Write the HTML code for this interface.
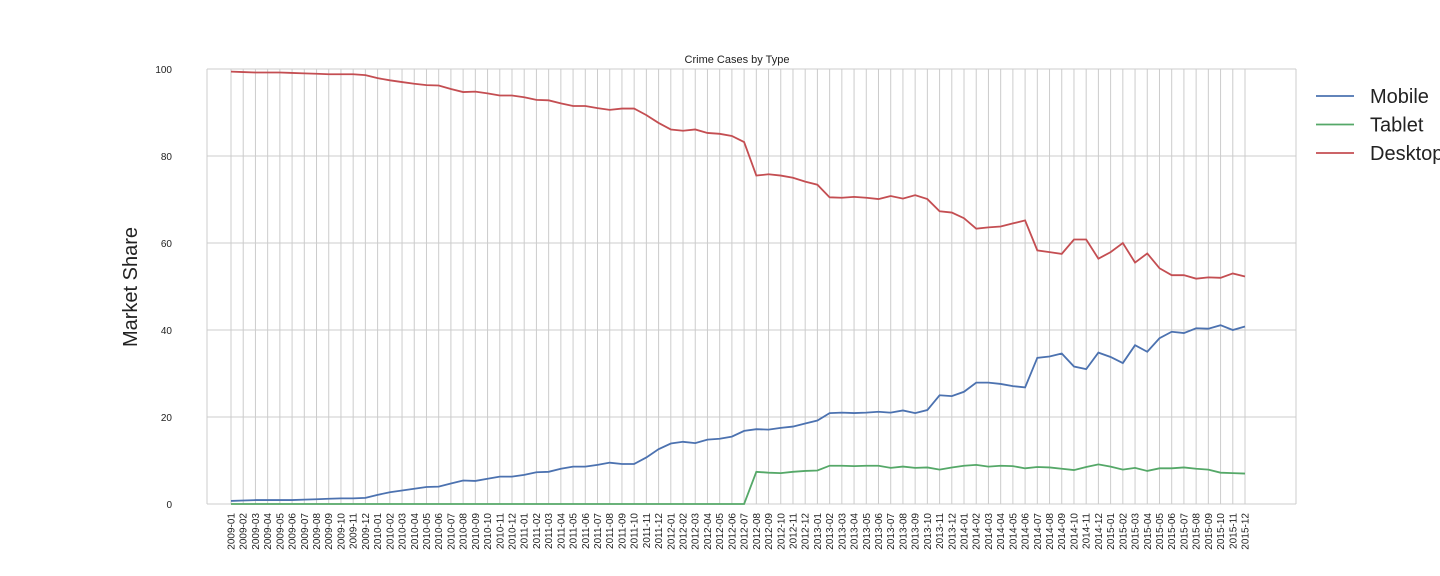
<!DOCTYPE html>
<html><head><meta charset="utf-8"><style>
body{margin:0;background:#fff;}
svg{display:block;font-family:"Liberation Sans",Arial,sans-serif;}
</style></head><body>
<svg id="chart" width="1440" height="576">
<text x="737" y="63" font-size="11" text-anchor="middle" fill="#222">Crime Cases by Type</text>
<text transform="translate(137,287) rotate(-90)" font-size="20" text-anchor="middle" fill="#222">Market Share</text>
<g id="grid"></g><g id="ticks"></g><g id="series"></g><g id="legend"></g>
</svg>
<script>
const categories=[];for(let y=2009;y<=2015;y++)for(let m=1;m<=12;m++)categories.push(y+'-'+String(m).padStart(2,'0'));
const yTicks=[0,20,40,60,80,100];
const mobile=[0.7,0.8,0.9,0.9,0.9,0.9,1.0,1.1,1.2,1.3,1.3,1.4,2.1,2.7,3.1,3.5,3.9,4.0,4.7,5.4,5.3,5.8,6.3,6.3,6.7,7.3,7.4,8.1,8.6,8.6,9.0,9.5,9.2,9.2,10.7,12.6,13.9,14.3,14.0,14.8,15.0,15.5,16.8,17.2,17.1,17.5,17.8,18.5,19.2,20.9,21.0,20.9,21.0,21.2,21.0,21.5,20.9,21.6,25.0,24.8,25.8,27.9,27.9,27.6,27.1,26.8,33.6,33.9,34.6,31.6,31.0,34.8,33.8,32.4,36.5,35.0,38.1,39.6,39.3,40.4,40.3,41.1,40.0,40.8];
const tablet=[0,0,0,0,0,0,0,0,0,0,0,0,0,0,0,0,0,0,0,0,0,0,0,0,0,0,0,0,0,0,0,0,0,0,0,0,0,0,0,0,0,0,0,7.4,7.2,7.1,7.4,7.6,7.7,8.8,8.8,8.7,8.8,8.8,8.3,8.6,8.3,8.4,7.9,8.4,8.8,9.0,8.6,8.8,8.7,8.2,8.5,8.4,8.1,7.8,8.5,9.1,8.6,7.9,8.3,7.6,8.2,8.2,8.4,8.1,7.9,7.2,7.1,7.0];
const desktop=[99.4,99.3,99.2,99.2,99.2,99.1,99.0,98.9,98.8,98.8,98.8,98.6,97.9,97.4,97.0,96.6,96.3,96.2,95.4,94.7,94.8,94.4,93.9,93.9,93.5,92.9,92.8,92.1,91.5,91.5,91.0,90.6,90.9,90.9,89.4,87.6,86.1,85.8,86.1,85.3,85.1,84.6,83.2,75.5,75.8,75.5,75.0,74.1,73.4,70.5,70.4,70.6,70.4,70.1,70.8,70.2,71.0,70.1,67.3,67.0,65.7,63.3,63.6,63.8,64.5,65.2,58.3,57.9,57.5,60.8,60.8,56.4,57.9,60.0,55.5,57.6,54.2,52.6,52.6,51.8,52.1,52.0,53.0,52.3];
const seriesNames=['Mobile','Tablet','Desktop'];
const colors=['#4c72b0','#55a868','#c44e52'];
const NS='http://www.w3.org/2000/svg';
const L=207,R=1296,T=69,B=504,X0=231,X1=1245;
const xs=i=>X0+(X1-X0)*i/(categories.length-1);
const ys=v=>B-(B-T)*v/100;
function mk(t,a,p){const e=document.createElementNS(NS,t);for(const k in a)e.setAttribute(k,a[k]);p.appendChild(e);return e;}
const grid=document.getElementById('grid'),ticks=document.getElementById('ticks');
categories.forEach((c,i)=>{
 const l=mk('line',{x1:xs(i),x2:xs(i),y1:T,y2:B,stroke:'#cccccc','stroke-width':1},grid);
 
 
 const t=mk('text',{transform:`translate(${xs(i)+3.5},513) rotate(-90)`,'font-size':10,'text-anchor':'end',fill:'#222'},ticks);
 t.textContent=c;
 
 
});
yTicks.forEach(v=>{
 const l=mk('line',{x1:L,x2:R,y1:ys(v),y2:ys(v),stroke:'#cccccc','stroke-width':1},grid);
 
 
 const t=mk('text',{x:172,y:ys(v)+4,'font-size':10,'text-anchor':'end',fill:'#222'},ticks);
 t.textContent=v;
 
 
});
const fr=mk('line',{x1:L,x2:L,y1:T,y2:B,stroke:'#cccccc'},grid);


const fr2=mk('line',{x1:R,x2:R,y1:T,y2:B,stroke:'#cccccc'},grid);


const sg=document.getElementById('series');
[mobile,tablet,desktop].forEach((d,k)=>{
 const p=mk('polyline',{points:d.map((v,i)=>xs(i)+','+ys(v)).join(' '),fill:'none',stroke:colors[k],'stroke-width':1.8},sg);
 
 
});
const lg=document.getElementById('legend');
seriesNames.forEach((n,k)=>{
 const y=96+k*28.5;
 const l=mk('line',{x1:1316,x2:1354,y1:y,y2:y,stroke:colors[k],'stroke-width':1.8},lg);
 
 
 const t=mk('text',{x:1370,y:y+7,'font-size':20,fill:'#222'},lg);
 t.textContent=n;
 
 
});
</script>
</body></html>
